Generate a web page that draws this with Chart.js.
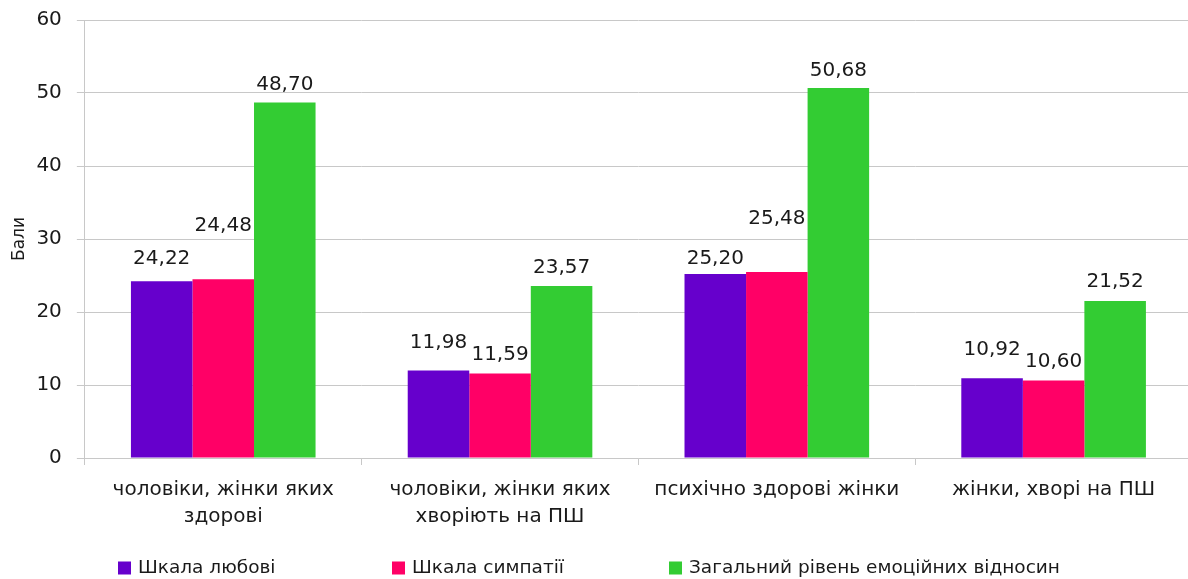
<!DOCTYPE html>
<html>
<head>
<meta charset="utf-8">
<script src="https://cdn.jsdelivr.net/npm/chart.js@4/dist/chart.umd.min.js"></script>
<style>
    html, body { margin: 0; padding: 0; background: #ffffff; overflow: hidden; }
    #wrap { width: 1196px; height: 579px; }
</style>
</head>
<body>
<div id="wrap"><canvas id="chart" width="1196" height="579"></canvas></div>
<script>
(() => {
    'use strict';

    const categories = [
        ['чоловіки, жінки яких', 'здорові'],
        ['чоловіки, жінки яких', 'хворіють на ПШ'],
        'психічно здорові жінки',
        'жінки, хворі на ПШ',
    ];
    const seriesNames = ['Шкала любові', 'Шкала симпатії', 'Загальний рівень емоційних відносин'];
    const loveValues = [24.22, 11.98, 25.20, 10.92];
    const sympathyValues = [24.48, 11.59, 25.48, 10.60];
    const totalValues = [48.70, 23.57, 50.68, 21.52];
    const yTicks = [0, 10, 20, 30, 40, 50, 60];

    const colors = ['#6600cc', '#ff0066', '#33cc33'];
    // how far (px) each value label sits above its bar, as placed in the original
    const labelRaise = [
        [22, 28, 15, 28],
        [53, 19, 53, 19],
        [18, 18, 17, 19],
    ];
    // left edge of each legend entry
    const legendX = [118, 392, 669];
    const fontFamily = '"DejaVu Sans", Verdana, sans-serif';
    const textColor = '#1a1a1a';
    const gridColor = '#c8c8c8';

    const valueLabels = {
        id: 'valueLabels',
        afterDatasetsDraw(chart) {
            const context = chart.ctx;
            chart.data.datasets.forEach((dataset, datasetIndex) => {
                chart.getDatasetMeta(datasetIndex).data.forEach((bar, index) => {
                    const label = dataset.data[index].toFixed(2).replace('.', ',');
                    context.save();
                    context.font = '20px ' + fontFamily;
                    context.fillStyle = textColor;
                    context.textAlign = 'center';
                    context.textBaseline = 'middle';
                    context.fillText(label, bar.x, bar.y - labelRaise[datasetIndex][index]);
                    context.restore();
                });
            });
        },
    };

    const bottomLegend = {
        id: 'bottomLegend',
        afterDraw(chart) {
            const context = chart.ctx;
            const box = 13;
            const textGap = 7;
            const y = 568;
            context.save();
            context.font = '18.5px ' + fontFamily;
            seriesNames.forEach((name, i) => {
                const x = legendX[i];
                context.fillStyle = colors[i];
                context.fillRect(x, y - box / 2, box, box);
                context.fillStyle = textColor;
                context.textAlign = 'left';
                context.textBaseline = 'middle';
                context.fillText(name, x + box + textGap, y);
            });
            context.restore();
        },
    };

    const canvas = document.getElementById('chart');

    new Chart(canvas, {
        type: 'bar',
        data: {
            labels: categories,
            datasets: [loveValues, sympathyValues, totalValues].map((values, i) => ({
                label: seriesNames[i],
                data: values,
                backgroundColor: colors[i],
                borderWidth: 0,
                categoryPercentage: 0.667,
                barPercentage: 1.0,
            })),
        },
        plugins: [valueLabels, bottomLegend],
        options: {
            responsive: false,
            animation: false,
            layout: {
                padding: { top: 0, right: 4, bottom: 38, left: 0 },
            },
            scales: {
                x: {
                    grid: {
                        display: true,
                        drawOnChartArea: false,
                        drawTicks: true,
                        tickLength: 7,
                        color: gridColor,
                    },
                    border: { color: gridColor, width: 1 },
                    ticks: {
                        color: textColor,
                        padding: 11,
                        maxRotation: 0,
                        autoSkip: false,
                        font: { family: fontFamily, size: 20, lineHeight: 1.35 },
                    },
                },
                y: {
                    min: 0,
                    max: 60,
                    afterBuildTicks: (axis) => {
                        axis.ticks = yTicks.map((value) => ({ value }));
                    },
                    afterFit: (axis) => {
                        axis.paddingTop = 20;
                    },
                    grid: {
                        color: gridColor,
                        tickLength: 8,
                    },
                    border: { color: gridColor, width: 1 },
                    ticks: {
                        color: textColor,
                        padding: 15,
                        font: { family: fontFamily, size: 20 },
                    },
                    title: {
                        display: true,
                        text: 'Бали',
                        color: textColor,
                        padding: { top: 9, bottom: -8 },
                        font: { family: fontFamily, size: 17 },
                    },
                },
            },
            plugins: {
                legend: { display: false },
                tooltip: { enabled: false },
            },
        },
    });
})();
</script>
</body>
</html>
